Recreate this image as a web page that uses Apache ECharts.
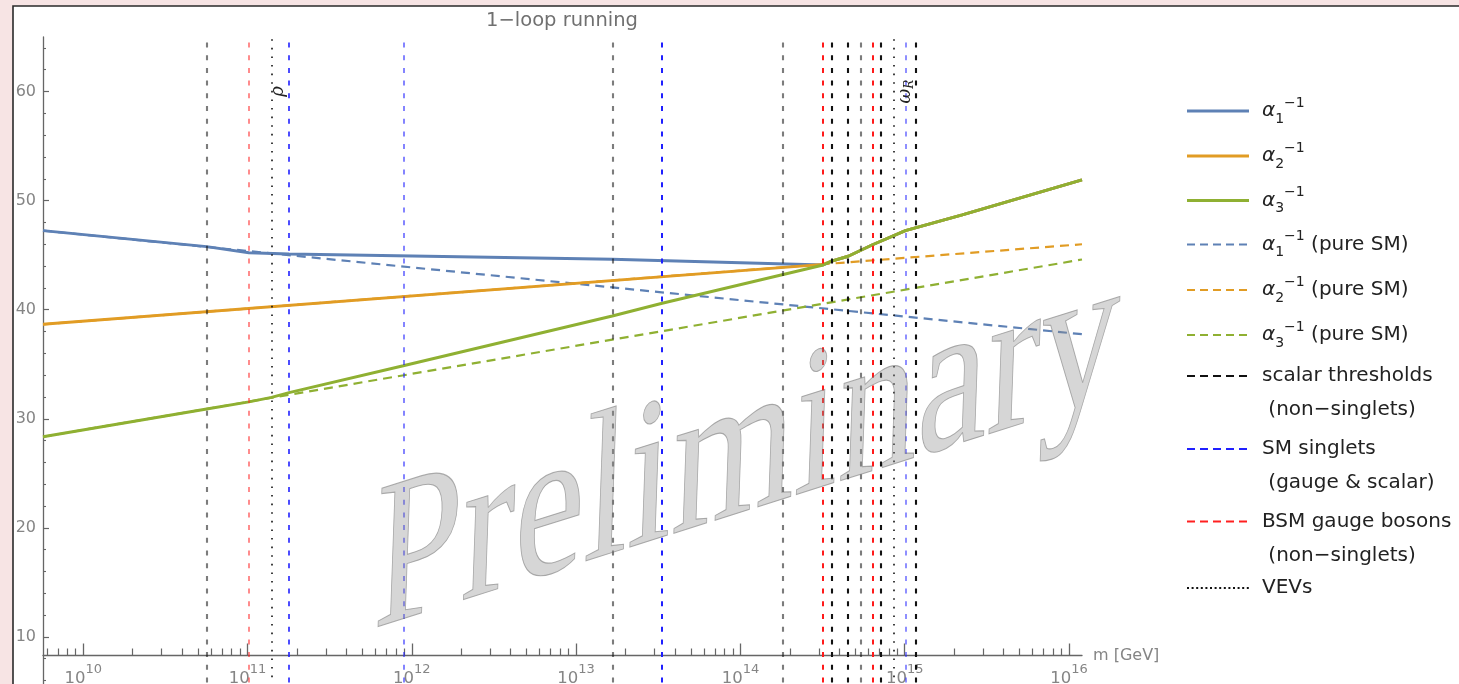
<!DOCTYPE html>
<html>
<head>
<meta charset="utf-8">
<script src="https://cdn.jsdelivr.net/npm/echarts@6/dist/echarts.min.js"></script>
<style>
  html, body { margin: 0; padding: 0; background: #f7e4e4; }
  #chart { width: 1459px; height: 684px; }
</style>
</head>
<body>
<div id="chart"></div>
<script>
// ---- scale range (GeV) and axis ticks ----
const axisMinGeV = 5.69e9;
const axisMaxGeV = 1.20e16;
const axisCrossing = 8.3;            // α⁻¹ value where the m axis is drawn
const decadeTicks = [1e10, 1e11, 1e12, 1e13, 1e14, 1e15, 1e16];
const yMajorTicks = [0, 10, 20, 30, 40, 50, 60];
const yLabelValues = [10, 20, 30, 40, 50, 60];
const yMinorTicks = [2, 4, 6, 8, 12, 14, 16, 18, 22, 24, 26, 28, 32, 34, 36, 38, 42, 44, 46, 48, 52, 54, 56, 58, 62, 64];
const minorMultipliers = [2, 3, 4, 5, 6, 7, 8, 9];

// ---- inverse couplings, [m (GeV), α⁻¹] ----
const unifiedRun = [[3.59e14, 44.45], [4.53e14, 44.9], [6.37e14, 45.95], [1.01e15, 47.25], [2.24e15, 48.7], [1.20e16, 51.9]];
const alpha1 = [[5.69e9, 47.25], [5.64e10, 45.78], [1.02e11, 45.22], [1.79e11, 45.10], [1.66e13, 44.62], [3.19e14, 44.1]];
const alpha2 = [[5.69e9, 38.66], [3.19e14, 44.15]];
const alpha3 = [[5.69e9, 28.35], [5.64e10, 30.9], [1.02e11, 31.55], [1.40e11, 31.96], [1.79e11, 32.4], [8.87e11, 34.86], [1.66e13, 39.42], [3.34e13, 40.59], [3.19e14, 44.1]];
const alpha1SM = [[5.69e9, 47.25], [1.20e16, 37.75]];
const alpha2SM = [[5.69e9, 38.66], [1.20e16, 46.0]];
const alpha3SM = [[5.69e9, 28.35], [1.20e16, 44.6]];

// ---- thresholds (GeV) ----
const scalarThresholds = [5.64e10, 1.66e13, 1.81e14, 3.59e14, 4.53e14, 5.41e14, 7.13e14, 1.16e15];
const smSinglets = [1.79e11, 8.87e11, 3.34e13, 1.01e15];
const bsmGaugeBosons = [1.023e11, 3.19e14, 6.37e14];
const vevScales = [1.40e11, 8.63e14];
const vevNames = ['ρ', '{w|ω}{r|R}'];

// line shading of the individual threshold markers
const scalarShade = [0.55, 0.55, 0.55, 1, 1, 0.55, 1, 1];
const singletShade = [0.8, 0.55, 1, 0.5];
const bsmShade = [0.5, 1, 1];

const C1 = '#5e81b5', C2 = '#e19c24', C3 = '#8fb032';
const AXIS = '#666666', LABEL = '#858585';
const curveDash = [9, 6];
const vDash = [5, 7.7];
const vDot = [1.6, 7];

const minorTickValues = [];
[1e9, 1e10, 1e11, 1e12, 1e13, 1e14, 1e15].forEach(d => minorMultipliers.forEach(k => {
  const v = k * d;
  if (v > axisMinGeV && v < axisMaxGeV) minorTickValues.push(v);
}));

function curve(name, data, color, dashed, z) {
  return {
    name, type: 'line', data, z, xAxisIndex: 0, yAxisIndex: 0,
    symbol: 'none', showSymbol: false, silent: true,
    lineStyle: { color, width: dashed ? 2.2 : 2.9, type: dashed ? curveDash : 'solid' }
  };
}

function thresholds(name, values, color, shade, dash, width, z) {
  return {
    name, type: 'line', data: [], z, silent: true, xAxisIndex: 0, yAxisIndex: 0,
    markLine: {
      symbol: ['none', 'none'], silent: true, animation: false,
      label: { show: false },
      lineStyle: { color, type: dash, width, cap: 'butt' },
      emphasis: { disabled: true },
      data: values.map((m, i) => ({ xAxis: m, lineStyle: { color, type: dash, width, opacity: shade ? shade[i] : 1 } }))
    }
  };
}

// linear map for the slanted watermark, split into rotate·scale·rotate
function splitLinearMap(m00, m10, m01, m11) {
  const E = (m00 + m11) / 2, F = (m00 - m11) / 2, G = (m10 + m01) / 2, H = (m10 - m01) / 2;
  const Q = Math.hypot(E, H), R = Math.hypot(F, G);
  const a1 = Math.atan2(G, F), a2 = Math.atan2(H, E);
  return { sx: Q + R, sy: Q - R, theta: (a2 - a1) / 2, phi: (a2 + a1) / 2 };
}
const wmBase = 17.5 * Math.PI / 180, wmLean = 2 * Math.PI / 180, wmWidth = 0.78, wmSize = 212;
const wm = splitLinearMap(wmWidth * Math.cos(wmBase), -wmWidth * Math.sin(wmBase), -Math.sin(wmLean), Math.cos(wmLean));

// ---- legend ----
const legendX1 = 1187, legendX2 = 1249, legendTextX = 1262;
const legendRows = [
  { y: 111, text: '{a|α}{d|1}{u|−1}', color: C1, dash: null, width: 2.8 },
  { y: 156, text: '{a|α}{d|2}{u|−1}', color: C2, dash: null, width: 2.8 },
  { y: 200.5, text: '{a|α}{d|3}{u|−1}', color: C3, dash: null, width: 2.8 },
  { y: 244.5, text: '{a|α}{d|1}{u|−1}{t| (pure SM)}', color: C1, dash: [8, 5], width: 2.2 },
  { y: 290, text: '{a|α}{d|2}{u|−1}{t| (pure SM)}', color: C2, dash: [8, 5], width: 2.2 },
  { y: 335, text: '{a|α}{d|3}{u|−1}{t| (pure SM)}', color: C3, dash: [8, 5], width: 2.2 },
  { y: 376, text: 'scalar thresholds\n (non−singlets)', color: '#111', dash: [8, 5], width: 2.2, two: true },
  { y: 449, text: 'SM singlets\n (gauge & scalar)', color: '#2020ff', dash: [8, 5], width: 2.2, two: true },
  { y: 521.5, text: 'BSM gauge bosons\n (non−singlets)', color: '#ff2020', dash: [8, 5], width: 2.2, two: true },
  { y: 588, text: 'VEVs', color: '#111', dash: [2, 2.6], width: 2.2 }
];
const legendRich = {
  a: { fontFamily: 'DejaVu Sans', fontStyle: 'italic', fontSize: 20, lineHeight: 30, fill: '#222' },
  d: { fontFamily: 'DejaVu Sans', fontSize: 14, lineHeight: 18, verticalAlign: 'bottom', fill: '#222' },
  u: { fontFamily: 'DejaVu Sans', fontSize: 14, lineHeight: 16, verticalAlign: 'top', fill: '#222' },
  t: { fontFamily: 'DejaVu Sans', fontSize: 20, lineHeight: 30, fill: '#222' }
};
const legendGraphics = [];
legendRows.forEach(r => {
  legendGraphics.push({
    type: 'line', silent: true, z: 20,
    shape: { x1: legendX1, y1: r.y, x2: legendX2, y2: r.y },
    style: { stroke: r.color, lineWidth: r.width, lineDash: r.dash || null }
  });
  legendGraphics.push(r.two ? {
    type: 'text', silent: true, z: 20, x: legendTextX, y: r.y - 17,
    style: { text: r.text, fontFamily: 'DejaVu Sans', fontSize: 20, lineHeight: 34, fill: '#222', align: 'left', verticalAlign: 'top' }
  } : {
    type: 'text', silent: true, z: 20, x: legendTextX, y: r.y,
    style: { text: r.text, rich: legendRich, fontFamily: 'DejaVu Sans', fontSize: 20, fill: '#222', align: 'left', verticalAlign: 'middle' }
  });
});

const chart = echarts.init(document.getElementById('chart'));
chart.setOption({
  animation: false,
  backgroundColor: '#f7e4e4',
  grid: [
    // plotting area; runs below the visible window
    { left: 43, top: 37, width: 1039, height: 709, outerBoundsMode: 'none', containLabel: false },
    // same area, ending at the m axis
    { left: 43, top: 37, width: 1039, height: 618.5, outerBoundsMode: 'none', containLabel: false }
  ],
  xAxis: [{
    gridIndex: 0, type: 'log', logBase: 10, min: axisMinGeV, max: axisMaxGeV, show: false
  }, {
    gridIndex: 1, type: 'log', logBase: 10, min: axisMinGeV, max: axisMaxGeV, position: 'bottom',
    axisLine: { show: true, onZero: false, lineStyle: { color: AXIS, width: 1.3 } },
    axisTick: { show: true, inside: true, length: 12, customValues: decadeTicks, lineStyle: { color: AXIS, width: 1.3 } },
    axisLabel: {
      show: true, customValues: decadeTicks, margin: 8,
      formatter: v => '{b|10}{s|' + Math.round(Math.log10(v)) + '}',
      rich: {
        b: { fontFamily: 'DejaVu Sans', fontSize: 16.5, color: LABEL, lineHeight: 24, verticalAlign: 'bottom' },
        s: { fontFamily: 'DejaVu Sans', fontSize: 13, color: LABEL, lineHeight: 6, verticalAlign: 'top' }
      }
    },
    splitLine: { show: false }, minorTick: { show: false },
    name: 'm [GeV]', nameLocation: 'end', nameGap: 11,
    nameTextStyle: { color: LABEL, fontSize: 16, fontFamily: 'DejaVu Sans', align: 'left', verticalAlign: 'middle' }
  }, {
    gridIndex: 1, type: 'log', logBase: 10, min: axisMinGeV, max: axisMaxGeV, position: 'bottom',
    axisLine: { show: false, onZero: false },
    axisTick: { show: true, inside: true, length: 7, customValues: minorTickValues, lineStyle: { color: AXIS, width: 1.2 } },
    axisLabel: { show: false }, splitLine: { show: false }
  }],
  yAxis: [{
    gridIndex: 0, type: 'value', min: 0, max: 65, interval: 10, position: 'left',
    axisLine: { show: true, onZero: false, lineStyle: { color: AXIS, width: 1.3 } },
    axisTick: { show: true, inside: true, length: 6, customValues: yMajorTicks, lineStyle: { color: AXIS, width: 1.2 } },
    axisLabel: { show: true, customValues: yLabelValues, margin: 7, color: LABEL, fontSize: 16, fontFamily: 'DejaVu Sans' },
    splitLine: { show: false }
  }, {
    gridIndex: 0, type: 'value', min: 0, max: 65, position: 'left', offset: 0,
    axisLine: { show: false, onZero: false },
    axisTick: { show: true, inside: true, length: 3, customValues: yMinorTicks, lineStyle: { color: AXIS, width: 1.1 } },
    axisLabel: { show: false }, splitLine: { show: false }
  }, {
    gridIndex: 1, type: 'value', min: axisCrossing, max: 65, show: false
  }],
  series: [
    curve('α1 pure SM', alpha1SM, C1, true, 2),
    curve('α2 pure SM', alpha2SM, C2, true, 2),
    curve('α3 pure SM', alpha3SM, C3, true, 2),
    curve('α1', alpha1.concat(unifiedRun), C1, false, 3),
    curve('α2', alpha2.concat(unifiedRun), C2, false, 3),
    curve('α3', alpha3.concat(unifiedRun), C3, false, 3),
    thresholds('scalar thresholds', scalarThresholds, '#111111', scalarShade, vDash, 2.1, 5),
    thresholds('SM singlets', smSinglets, '#1f1fff', singletShade, vDash, 2, 5),
    thresholds('BSM gauge bosons', bsmGaugeBosons, '#ff1a1a', bsmShade, vDash, 2, 5),
    Object.assign(thresholds('VEVs', vevScales, '#111111', null, vDot, 1.6, 5), {
      markPoint: {
        symbol: 'circle', symbolSize: 0, silent: true, animation: false,
        label: {
          show: true, rotate: 90, color: '#222', fontSize: 18, fontFamily: 'DejaVu Serif', fontStyle: 'italic',
          formatter: p => p.name,
          rich: {
            w: { fontSize: 18, fontFamily: 'DejaVu Serif', fontStyle: 'italic', color: '#222', lineHeight: 22 },
            r: { fontSize: 12, fontFamily: 'DejaVu Serif', fontStyle: 'italic', color: '#222', lineHeight: 14, verticalAlign: 'bottom' }
          }
        },
        data: [
          { name: vevNames[0], coord: [vevScales[0], 60], label: { offset: [0, 7] } },
          { name: vevNames[1], coord: [vevScales[1], 60], label: { offset: [0, 11] } }
        ]
      }
    })
  ],
  graphic: [
    { type: 'rect', silent: true, z: -100, shape: { x: 13, y: 6, width: 1460, height: 700 },
      style: { fill: '#ffffff', stroke: '#2a2a2a', lineWidth: 1.6 } },
    { type: 'text', silent: true, z: 20, x: 562, y: 21,
      style: { text: '1−loop running', fontFamily: 'DejaVu Sans', fontSize: 19.5, fill: '#707070', align: 'center', verticalAlign: 'middle' } },
    {
      type: 'group', silent: true, z: 60, x: 372, y: 644, rotation: -wm.phi, scaleX: wm.sx, scaleY: wm.sy,
      children: [{
        type: 'group', rotation: -wm.theta,
        children: [{
          type: 'text', z: 60, x: 0, y: -0.3375 * wmSize,
          style: { text: 'Preliminary', fontFamily: 'Liberation Serif', fontSize: wmSize,
            fill: 'rgba(140,140,140,0.36)', stroke: 'rgba(95,95,95,0.5)', lineWidth: 1.1,
            align: 'left', verticalAlign: 'middle' }
        }]
      }]
    }
  ].concat(legendGraphics)
});
</script>
</body>
</html>
